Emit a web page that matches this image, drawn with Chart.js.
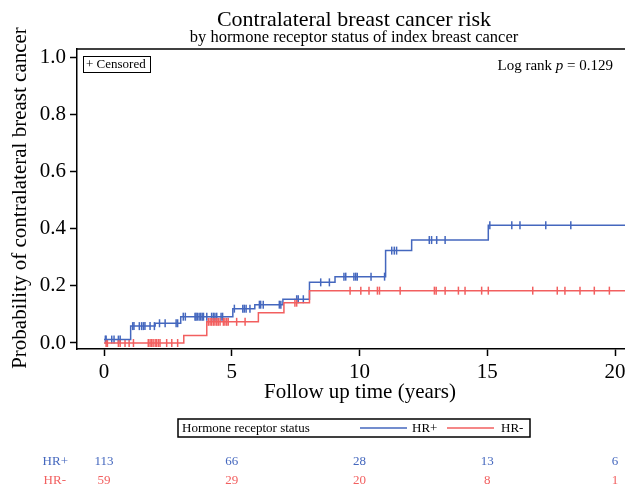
<!DOCTYPE html>
<html>
<head>
<meta charset="utf-8">
<script src="https://cdn.jsdelivr.net/npm/chart.js@4.4.1/dist/chart.umd.min.js"></script>
<style>
  html, body { margin: 0; padding: 0; background: #fff; overflow: hidden; }
  #wrap { width: 680px; height: 489px; }
</style>
</head>
<body>
<div id="wrap"><canvas id="kmChart" width="680" height="489"></canvas></div>
<script>
// ---- values ----
// cumulative incidence steps: time (years) where the curve jumps, and the new level
const hrPosTimes  = [0, 1.04, 2.0, 3.0, 5.04, 5.9, 7.0, 8.04, 9.04, 11.02, 12.04, 15.04];
const hrPosLevels = [0.012, 0.059, 0.069, 0.092, 0.12, 0.134, 0.153, 0.212, 0.232, 0.323, 0.36, 0.412];
const hrNegTimes  = [0, 3.12, 4.02, 6.04, 7.04, 8.04];
const hrNegLevels = [0, 0.026, 0.074, 0.106, 0.141, 0.183];

// censoring times
const hrPosCensored = [0.05, 0.08, 0.3, 0.39, 0.56, 0.63, 1.12, 1.17, 1.38, 1.47, 1.54, 1.6, 1.8, 1.97,
  2.17, 2.39, 2.82, 2.88, 3.1, 3.18, 3.56, 3.6, 3.65, 3.72, 3.78, 3.84, 3.89, 4.02, 4.21, 4.28, 4.34,
  4.41, 4.58, 4.64, 5.1, 5.43, 5.49, 5.56, 5.71, 6.08, 6.13, 6.23, 6.86, 6.92, 7.54, 7.6, 7.8, 8.48,
  8.82, 9.39, 9.46, 9.78, 9.85, 9.91, 10.45, 10.98, 11.26, 11.36, 11.45, 12.73, 12.82, 13.02, 13.35,
  15.1, 15.96, 16.28, 17.29, 18.27];
const hrNegCensored = [0.08, 0.13, 0.56, 0.63, 0.82, 0.98, 1.15, 1.73, 1.8, 1.86, 1.92, 2.0, 2.06, 2.13,
  2.19, 2.45, 2.65, 2.88, 4.08, 4.15, 4.21, 4.28, 4.34, 4.41, 4.47, 4.54, 4.67, 4.73, 4.8, 4.86, 5.19,
  5.52, 7.47, 7.54, 9.63, 10.05, 10.37, 10.7, 10.78, 11.59, 12.93, 13.0, 13.35, 13.87, 14.13, 14.78,
  15.04, 16.78, 17.74, 18.04, 18.63, 19.19, 19.78];

const xTicks = [0, 5, 10, 15, 20];
const yTicks = [0, 0.2, 0.4, 0.6, 0.8, 1.0];

// number at risk
const riskTimes   = [0, 5, 10, 15, 20];
const hrPosAtRisk = [113, 66, 28, 13, 6];
const hrNegAtRisk = [59, 29, 20, 8, 1];

const X_MIN = -1.06, X_MAX = 21.37;
const Y_MIN = -0.021, Y_MAX = 1.028;

const BLUE = '#4467BE';
const RED = '#F25F5F';
const SERIF = '"Liberation Serif", "Times New Roman", serif';

function stepPoints(times, levels) {
  const pts = times.map((t, i) => ({ x: t, y: levels[i] }));
  pts.push({ x: X_MAX, y: levels[levels.length - 1] });
  return pts;
}

// level of the curve at time t (for placing censor marks on it)
function levelAt(times, levels, t) {
  let v = levels[0];
  for (let i = 0; i < times.length; i++) {
    if (times[i] <= t) v = levels[i];
  }
  return v;
}

function censorPoints(cens, times, levels) {
  return cens.map(t => ({ x: t, y: levelAt(times, levels, t) }));
}

// Draw titles, boxes, legend and risk table
const annotations = {
  id: 'annotations',
  afterDraw(chart) {
    const ctx = chart.ctx;
    const area = chart.chartArea;
    const xs = chart.scales.x;
    ctx.save();

    // top frame line
    ctx.strokeStyle = '#000';
    ctx.lineWidth = 1.5;
    ctx.beginPath();
    ctx.moveTo(area.left, area.top);
    ctx.lineTo(area.right, area.top);
    ctx.stroke();

    ctx.fillStyle = '#000';
    ctx.textBaseline = 'middle';
    ctx.textAlign = 'center';
    ctx.font = '22px ' + SERIF;
    ctx.fillText('Contralateral breast cancer risk', 354, 20);
    ctx.font = '16.5px ' + SERIF;
    ctx.fillText('by hormone receptor status of index breast cancer', 354, 38);

    // axis titles
    ctx.font = '21px ' + SERIF;
    ctx.fillText('Follow up time (years)', 360, 392);
    ctx.save();
    ctx.translate(20, 198);
    ctx.rotate(-Math.PI / 2);
    ctx.fillText('Probability of contralateral breast cancer', 0, 0);
    ctx.restore();

    // Censored box
    ctx.lineWidth = 1;
    ctx.strokeRect(83.5, 56.5, 67, 16);
    ctx.textAlign = 'left';
    ctx.font = '13px ' + SERIF;
    ctx.fillText('+ Censored', 86, 65);

    // Log rank text
    const p1 = 'Log rank ', p3 = ' = 0.129';
    ctx.font = 'italic 15px ' + SERIF;
    const wp = ctx.measureText('p').width;
    ctx.font = '15px ' + SERIF;
    const w1 = ctx.measureText(p1).width, w3 = ctx.measureText(p3).width;
    const lx = 613 - (w1 + wp + w3);
    ctx.fillText(p1, lx, 66);
    ctx.font = 'italic 15px ' + SERIF;
    ctx.fillText('p', lx + w1, 66);
    ctx.font = '15px ' + SERIF;
    ctx.fillText(p3, lx + w1 + wp, 66);

    // legend
    ctx.lineWidth = 1.5;
    ctx.strokeRect(178, 419, 352, 18);
    ctx.font = '13px ' + SERIF;
    ctx.fillText('Hormone receptor status', 182, 428.5);
    ctx.strokeStyle = BLUE;
    ctx.beginPath(); ctx.moveTo(360, 428); ctx.lineTo(407, 428); ctx.stroke();
    ctx.fillText('HR+', 412, 428.5);
    ctx.strokeStyle = RED;
    ctx.beginPath(); ctx.moveTo(447, 428); ctx.lineTo(494, 428); ctx.stroke();
    ctx.fillText('HR-', 501, 428.5);

    // risk table
    ctx.font = '13px ' + SERIF;
    ctx.textAlign = 'right';
    ctx.fillStyle = BLUE;
    ctx.fillText('HR+', 68, 462);
    ctx.fillStyle = RED;
    ctx.fillText('HR-', 66, 481);
    ctx.textAlign = 'center';
    riskTimes.forEach((t, i) => {
      const px = xs.getPixelForValue(t);
      ctx.fillStyle = BLUE;
      ctx.fillText(String(hrPosAtRisk[i]), px, 462);
      ctx.fillStyle = RED;
      ctx.fillText(String(hrNegAtRisk[i]), px, 481);
    });

    ctx.restore();
  }
};

const ctx = document.getElementById('kmChart');
new Chart(ctx, {
  type: 'line',
  data: {
    datasets: [
      {
        label: 'HR-',
        data: stepPoints(hrNegTimes, hrNegLevels),
        borderColor: RED,
        borderWidth: 1.5,
        stepped: 'before',
        pointRadius: 0,
        fill: false
      },
      {
        label: 'HR+',
        data: stepPoints(hrPosTimes, hrPosLevels),
        borderColor: BLUE,
        borderWidth: 1.5,
        stepped: 'before',
        pointRadius: 0,
        fill: false
      },
      {
        label: 'HR- censored',
        data: censorPoints(hrNegCensored, hrNegTimes, hrNegLevels),
        showLine: false,
        pointStyle: 'line',
        rotation: 90,
        pointRadius: 4,
        borderColor: RED,
        pointBorderWidth: 1.5
      },
      {
        label: 'HR+ censored',
        data: censorPoints(hrPosCensored, hrPosTimes, hrPosLevels),
        showLine: false,
        pointStyle: 'line',
        rotation: 90,
        pointRadius: 4,
        borderColor: BLUE,
        pointBorderWidth: 1.5
      }
    ]
  },
  options: {
    responsive: false,
    animation: false,
    devicePixelRatio: 1,
    layout: { padding: { top: 49, right: 30, bottom: 0, left: 0 } },
    plugins: {
      legend: { display: false },
      tooltip: { enabled: false },
      title: { display: false }
    },
    scales: {
      x: {
        type: 'linear',
        min: X_MIN,
        max: X_MAX,
        afterBuildTicks: s => { s.ticks = xTicks.map(v => ({ value: v })); },
        afterFit: s => { s.height = 140; },
        grid: { drawOnChartArea: false, tickLength: 7, tickWidth: 1.5, tickColor: '#000' },
        border: { color: '#000', width: 1.5 },
        ticks: {
          color: '#000',
          padding: 4,
          maxRotation: 0,
          font: { family: SERIF, size: 21 },
          callback: v => String(v)
        }
      },
      y: {
        type: 'linear',
        min: Y_MIN,
        max: Y_MAX,
        afterBuildTicks: s => { s.ticks = yTicks.map(v => ({ value: v })); },
        afterFit: s => { s.width = 77; },
        grid: { drawOnChartArea: false, tickLength: 7, tickWidth: 1.5, tickColor: '#000' },
        border: { color: '#000', width: 1.5 },
        ticks: {
          color: '#000',
          padding: 4,
          font: { family: SERIF, size: 21 },
          callback: v => v.toFixed(1)
        }
      }
    }
  },
  plugins: [annotations]
});
</script>
</body>
</html>
